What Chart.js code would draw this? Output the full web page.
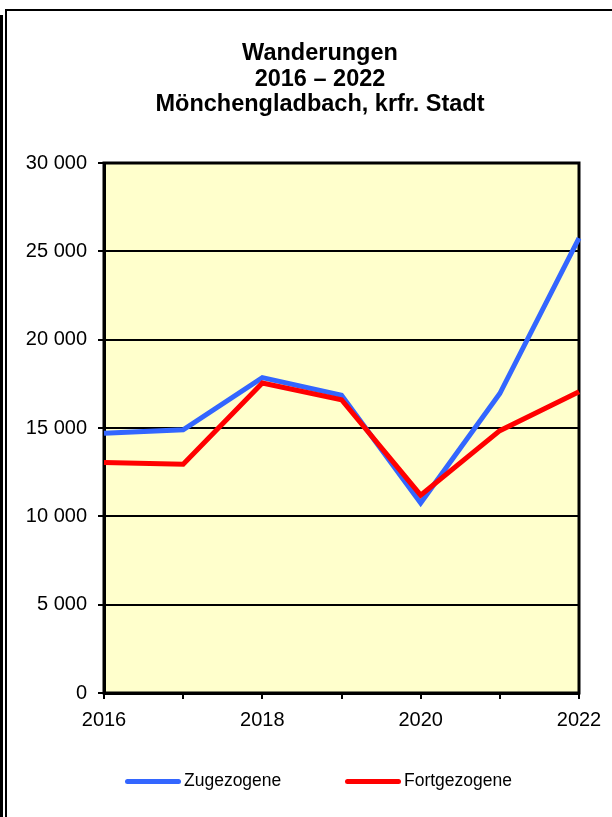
<!DOCTYPE html>
<html>
<head>
<meta charset="utf-8">
<script src="https://cdn.jsdelivr.net/npm/chart.js@4.4.0/dist/chart.umd.min.js"></script>
<style>
  html, body { margin: 0; padding: 0; background: #ffffff; overflow: hidden; width: 612px; height: 817px; }
  #wrap { position: relative; width: 612px; height: 817px; overflow: hidden; }
  .f { position: absolute; background: #000; }
  #c { position: absolute; left: 8px; top: 0; }
</style>
</head>
<body>
<div id="wrap">
  <div class="f" style="left:0;top:15px;width:3px;height:802px;"></div>
  <div class="f" style="left:5px;top:9px;width:2px;height:808px;"></div>
  <div class="f" style="left:5px;top:9px;width:607px;height:2px;"></div>
  <canvas id="c" width="624" height="817"></canvas>
</div>
<script>
const years = ['2016', '2017', '2018', '2019', '2020', '2021', '2022'];
const xTickLabels = ['2016', '', '2018', '', '2020', '', '2022'];
const zugezogene = [14700, 14900, 17850, 16850, 10750, 16950, 25750];
const fortgezogene = [13050, 12950, 17550, 16600, 11200, 14850, 17050];
const seriesNames = ['Zugezogene', 'Fortgezogene'];
const titleLines = ['Wanderungen', '2016 \u2013 2022', 'M\u00f6nchengladbach, krfr. Stadt'];
const yMin = 0, yMax = 30000, yStep = 5000;

const FONT = '"Liberation Sans", Arial, Helvetica, sans-serif';

const plotFrame = {
  id: 'plotFrame',
  beforeDraw(chart) {
    const a = chart.chartArea, ctx = chart.ctx;
    ctx.save();
    ctx.fillStyle = '#FFFFCC';
    ctx.fillRect(a.left, a.top, a.right - a.left, a.bottom - a.top);
    ctx.restore();
  },
  beforeDatasetsDraw(chart) {
    const a = chart.chartArea, ctx = chart.ctx;
    ctx.save();
    ctx.strokeStyle = '#000';
    ctx.lineWidth = 3;
    ctx.strokeRect(a.left, a.top, a.right - a.left, a.bottom - a.top);
    ctx.restore();
  }
};

const customLegend = {
  id: 'customLegend',
  afterDraw(chart) {
    const ctx = chart.ctx;
    const items = [
      { lineX: 117, textX: 176 },
      { lineX: 337, textX: 396 }
    ];
    const y = 781.5;
    ctx.save();
    chart.data.datasets.forEach((ds, i) => {
      const it = items[i];
      ctx.strokeStyle = ds.borderColor;
      ctx.lineWidth = 5;
      ctx.lineCap = 'round';
      ctx.beginPath();
      ctx.moveTo(it.lineX + 2.5, y);
      ctx.lineTo(it.lineX + 56 - 2.5, y);
      ctx.stroke();
      ctx.fillStyle = '#000';
      ctx.font = '17.5px ' + FONT;
      ctx.textBaseline = 'middle';
      ctx.textAlign = 'left';
      ctx.fillText(ds.label, it.textX, y);
    });
    ctx.restore();
  }
};

new Chart(document.getElementById('c'), {
  type: 'line',
  data: {
    labels: years,
    datasets: [
      { label: seriesNames[0], data: zugezogene, borderColor: '#3366FF', backgroundColor: '#3366FF',
        borderWidth: 5, pointRadius: 0, pointHoverRadius: 0, tension: 0, fill: false, order: 1, borderJoinStyle: 'miter' },
      { label: seriesNames[1], data: fortgezogene, borderColor: '#FF0000', backgroundColor: '#FF0000',
        borderWidth: 5, pointRadius: 0, pointHoverRadius: 0, tension: 0, fill: false, order: 0, borderJoinStyle: 'miter' }
    ]
  },
  options: {
    responsive: false,
    animation: false,
    devicePixelRatio: 1,
    layout: { padding: { left: 0, right: 0, top: 0, bottom: 84 } },
    plugins: {
      legend: { display: false },
      tooltip: { enabled: false },
      title: {
        display: true,
        text: titleLines,
        color: '#000',
        font: { family: FONT, size: 23.5, weight: 'bold', lineHeight: '25.5px' },
        padding: { top: 41, bottom: 45.5 }
      }
    },
    scales: {
      x: {
        type: 'category',
        offset: false,
        grid: { display: true, drawOnChartArea: false, drawTicks: true, tickLength: 6, color: '#000', lineWidth: 2, offset: false },
        border: { display: true, color: '#000', width: 3 },
        ticks: {
          autoSkip: false, maxRotation: 0, minRotation: 0, padding: 9, color: '#000',
          font: { family: FONT, size: 20 },
          callback: (v, i) => xTickLabels[i]
        },
        afterFit: (s) => { s.height = 40; }
      },
      y: {
        min: yMin, max: yMax,
        grid: { color: '#000', lineWidth: 2, drawTicks: true, tickLength: 6 },
        border: { display: true, color: '#000', width: 3 },
        ticks: {
          stepSize: yStep, padding: 11, color: '#000',
          font: { family: FONT, size: 20 },
          callback: (v) => String(v).replace(/\B(?=(\d{3})+(?!\d))/g, ' ')
        },
        afterFit: (s) => { s.width = 96; }
      },
      spacer: {
        type: 'linear',
        position: 'right',
        display: true,
        min: 0, max: 1,
        grid: { display: false, drawOnChartArea: false, drawTicks: false },
        border: { display: false },
        ticks: { display: false },
        afterFit: (s) => { s.width = 53; }
      }
    }
  },
  plugins: [plotFrame, customLegend]
});
</script>
</body>
</html>
